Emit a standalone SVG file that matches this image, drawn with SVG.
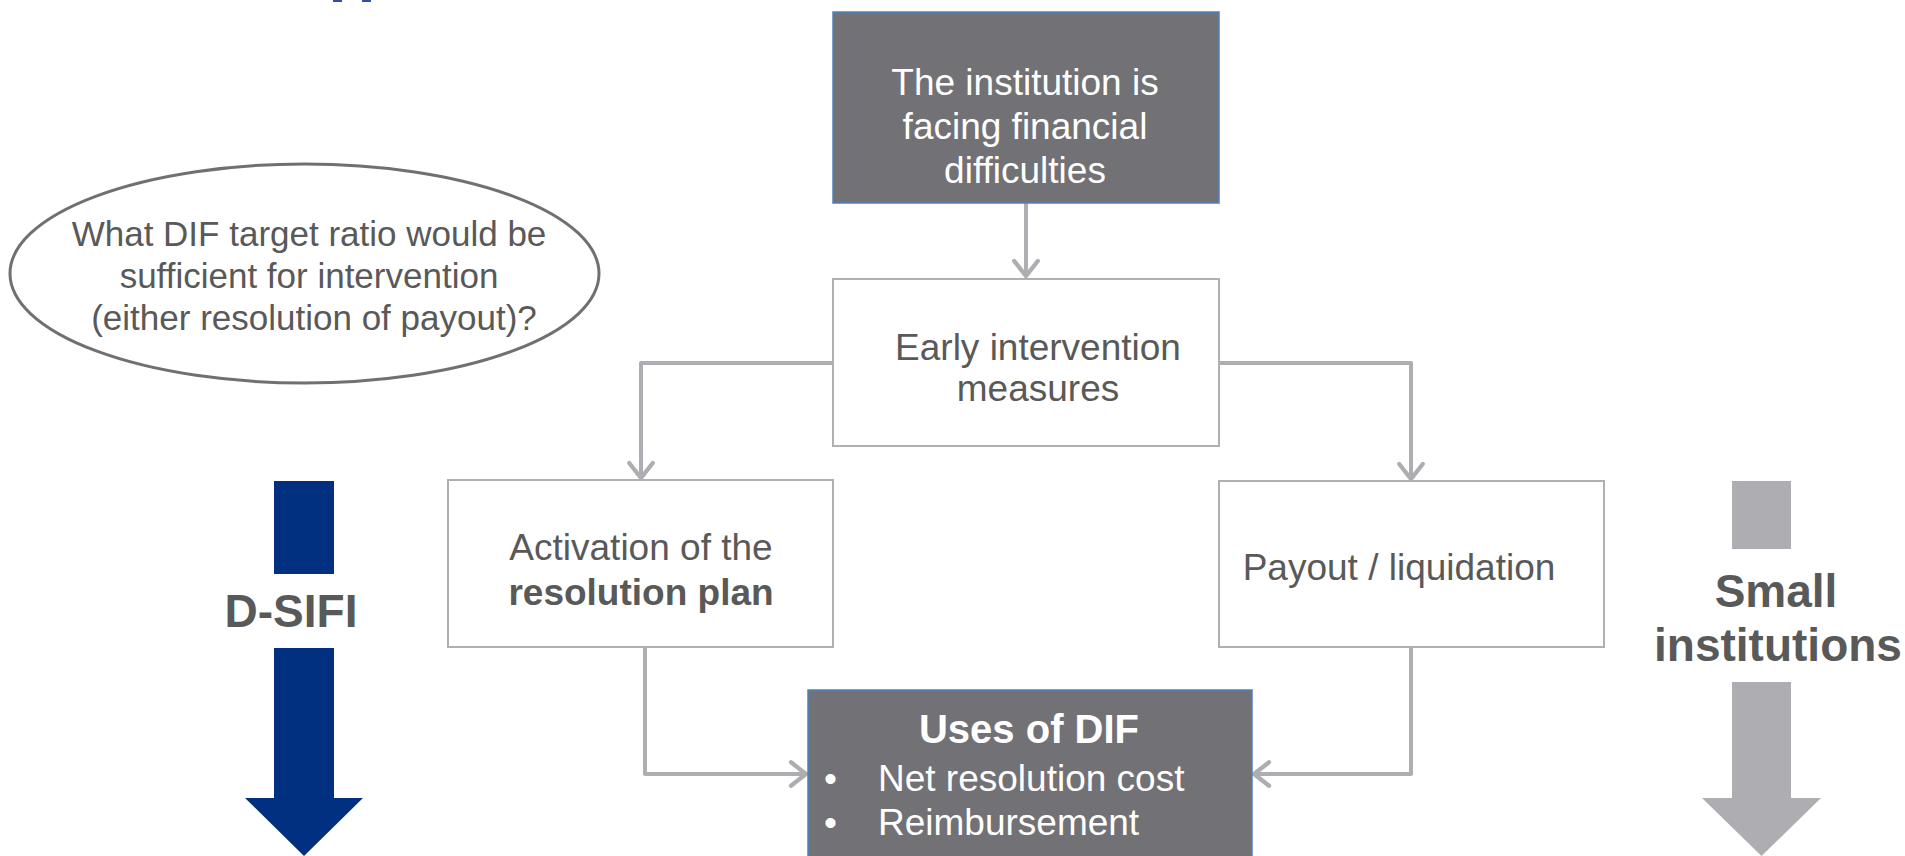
<svg xmlns="http://www.w3.org/2000/svg" width="1905" height="856" viewBox="0 0 1905 856">
<style>
.t{font-family:"Liberation Sans",Arial,sans-serif;font-size:37px;fill:#595959;text-anchor:middle}
.w{fill:#ffffff}
.b{font-weight:bold}
.box{fill:#ffffff;stroke:#b0b0b3;stroke-width:2}
.dark{fill:#727176;stroke:#4f81bd;stroke-width:1.5}
.con{fill:none;stroke:#adadb2;stroke-width:4;stroke-linejoin:round}
</style>
<defs>
<marker id="ah" markerUnits="userSpaceOnUse" markerWidth="30" markerHeight="30" viewBox="-16 -14 20 28" refX="0" refY="0" orient="auto">
<path d="M-14,-11 L0,0 L-14,11" fill="none" stroke="#adadb2" stroke-width="4" stroke-linecap="round" stroke-linejoin="miter"/>
</marker>
</defs>
<rect x="333" y="0" width="9" height="2" fill="#2f4fa0"/>
<rect x="362" y="0" width="9" height="2" fill="#2f4fa0"/>
<g id="connectors">
<path class="con" d="M1026,203 L1026,276" marker-end="url(#ah)"/>
<path class="con" d="M833,363 L641,363 L641,478" marker-end="url(#ah)"/>
<path class="con" d="M1219,363 L1411,363 L1411,479" marker-end="url(#ah)"/>
<path class="con" d="M645,647 L645,774 L806,774" marker-end="url(#ah)"/>
<path class="con" d="M1411,647 L1411,774 L1254,774" marker-end="url(#ah)"/>
</g>
<g id="question">
<ellipse cx="304.5" cy="273.5" rx="294.5" ry="109.5" fill="#ffffff" stroke="#707070" stroke-width="3"/>
<text class="t" style="font-size:35px" x="309" y="246">What DIF target ratio would be</text>
<text class="t" style="font-size:35px" x="309" y="288">sufficient for intervention</text>
<text class="t" style="font-size:35px" x="314" y="330">(either resolution of payout)?</text>
</g>
<g id="difficulties">
<rect class="dark" x="833" y="12" width="386" height="191"/>
<text class="t w" x="1025" y="95">The institution is</text>
<text class="t w" x="1025" y="139">facing financial</text>
<text class="t w" x="1025" y="183">difficulties</text>
</g>
<g id="early">
<rect class="box" x="833" y="279" width="386" height="167"/>
<text class="t" x="1038" y="360">Early intervention</text>
<text class="t" x="1038" y="401">measures</text>
</g>
<g id="resolution">
<rect class="box" x="448" y="480" width="385" height="167"/>
<text class="t" x="641" y="560">Activation of the</text>
<text class="t b" x="641" y="605">resolution plan</text>
</g>
<g id="payout">
<rect class="box" x="1219" y="481" width="385" height="166"/>
<text class="t" x="1399" y="580">Payout / liquidation</text>
</g>
<g id="uses">
<rect class="dark" x="808" y="690" width="444" height="180"/>
<text class="t w b" style="font-size:40px" x="1029" y="743">Uses of DIF</text>
<text class="t w" style="text-anchor:start" x="824" y="791">•</text>
<text class="t w" style="text-anchor:start" x="878" y="791">Net resolution cost</text>
<text class="t w" style="text-anchor:start" x="824" y="835">•</text>
<text class="t w" style="text-anchor:start" x="878" y="835">Reimbursement</text>
</g>
<g id="dsifi">
<rect x="274" y="481" width="60" height="93" fill="#00307f"/>
<path d="M274,648 L334,648 L334,798 L363,798 L304,856 L245,798 L274,798 Z" fill="#00307f"/>
<text class="t b" style="font-size:46px" x="291" y="627">D-SIFI</text>
</g>
<g id="small">
<rect x="1732" y="481" width="59" height="68" fill="#adadb2"/>
<path d="M1732,682 L1791,682 L1791,798 L1821,798 L1761.5,856 L1702,798 L1732,798 Z" fill="#adadb2"/>
<text class="t b" style="font-size:46px" x="1776" y="607">Small</text>
<text class="t b" style="font-size:46px" x="1778" y="661">institutions</text>
</g>
</svg>
